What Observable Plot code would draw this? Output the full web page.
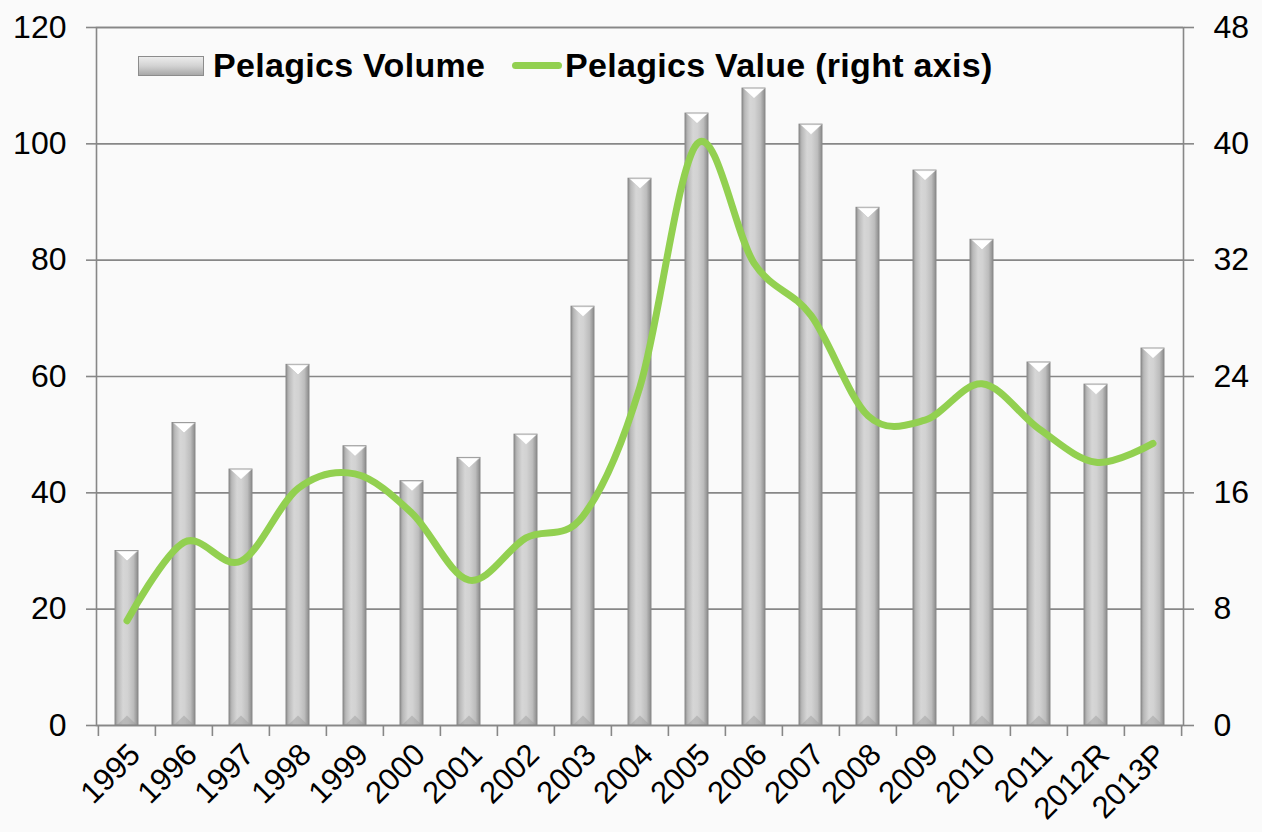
<!DOCTYPE html>
<html>
<head>
<meta charset="utf-8">
<script src="https://cdn.jsdelivr.net/npm/d3@7"></script>
<script src="https://cdn.jsdelivr.net/npm/@observablehq/plot@0.6"></script>
<style>
  html, body { margin: 0; padding: 0; background: #fafafa; }
  #wrap { position: relative; width: 1262px; height: 832px; font-family: "Liberation Sans", Arial, sans-serif; }
  .leg { position: absolute; top: 46px; display: flex; align-items: center; font-weight: bold; font-size: 34px; letter-spacing: 0.3px; color: #000; white-space: nowrap; }
  .sw-bar { width: 66px; height: 20px; margin-right: 9px; background: linear-gradient(to bottom, #ececec 0%, #d2d2d2 50%, #a8a8a8 100%); border: 1px solid #8c8c8c; box-sizing: border-box; }
  .sw-line { width: 50px; height: 7px; border-radius: 4px; background: #92d050; margin-right: 3px; }
</style>
</head>
<body>
<div id="wrap">
  <div id="chart"></div>
  <div class="leg" style="left:138px"><span class="sw-bar"></span><span>Pelagics Volume</span></div>
  <div class="leg" style="left:512px"><span class="sw-line"></span><span>Pelagics Value (right axis)</span></div>
</div>
<script>
const years = ["1995","1996","1997","1998","1999","2000","2001","2002","2003","2004","2005","2006","2007","2008","2009","2010","2011","2012R","2013P"];
const volume = [30, 52, 44, 62, 48, 42, 46, 50, 72, 94, 105.2, 109.5, 103.3, 89, 95.4, 83.5, 62.4, 58.6, 64.8];
const value = [7.2, 12.6, 11.3, 16.3, 17.3, 14.6, 10.0, 12.9, 14.4, 23.3, 40.0, 31.8, 28.2, 21.3, 21.0, 23.5, 20.4, 18.1, 19.4];
const leftTicks = [0, 20, 40, 60, 80, 100, 120];
const rightTicks = [0, 8, 16, 24, 32, 40, 48];
const rightMax = 48, leftMax = 120;
const k = leftMax / rightMax;

const data = years.map((y, i) => ({year: y, volume: volume[i], value: value[i]}));

const W = 1262, H = 832, mL = 96, mR = 79, mT = 27, mB = 107;
const step = (W - mL - mR) / years.length;

const topTri = {draw(ctx) { const w = 10.5, h = 10; ctx.moveTo(-w, 0); ctx.lineTo(w, 0); ctx.lineTo(0, h); ctx.closePath(); }};
const botTri = {draw(ctx) { const w = 10.5, h = 10; ctx.moveTo(-w, 0); ctx.lineTo(w, 0); ctx.lineTo(0, -h); ctx.closePath(); }};

const chart = Plot.plot({
  width: W, height: H,
  marginLeft: mL, marginRight: mR, marginTop: mT, marginBottom: mB,
  style: {background: "#fafafa", fontFamily: "'Liberation Sans', Arial, sans-serif", color: "#000"},
  x: {type: "band", domain: years, paddingInner: 0.6, paddingOuter: 0.3},
  y: {domain: [0, leftMax]},
  marks: [
    Plot.gridY(leftTicks, {stroke: "#878787", strokeOpacity: 1, strokeWidth: 1.6}),
    Plot.barY(data, {x: "year", y: "volume", fill: "url(#barGrad)", stroke: "#8a8a8a", strokeWidth: 1}),
    Plot.dot(data, {x: "year", y: 0, symbol: botTri, r: 5, fill: "#9a9a9a", fillOpacity: 0.45, stroke: "none"}),
    Plot.dot(data, {x: "year", y: "volume", symbol: topTri, r: 5, fill: "#ffffff", stroke: "#c8c8c8", strokeWidth: 0.6}),
    Plot.line(data, {x: "year", y: d => d.value * k, stroke: "#92d050", strokeWidth: 7, curve: "cardinal", strokeLinecap: "round", strokeLinejoin: "round"}),
    Plot.frame({stroke: "#878787", strokeWidth: 1.6}),
    Plot.axisY(leftTicks, {anchor: "left", tickSize: 10, tickPadding: 20, fontSize: 32, stroke: "#878787", strokeWidth: 1.6, label: null}),
    Plot.axisY(rightTicks.map(v => v * k), {anchor: "right", tickSize: 10, tickPadding: 20, fontSize: 32, stroke: "#878787", strokeWidth: 1.6, tickFormat: d => String(Math.round(d / k)), label: null}),
    Plot.axisX({tickSize: 11, dx: -step / 2, tickFormat: () => "", stroke: "#878787", strokeWidth: 1.6, label: null}),
    Plot.axisX([years[years.length - 1]], {tickSize: 11, dx: step / 2, tickFormat: () => "", stroke: "#878787", strokeWidth: 1.6, label: null}),
    Plot.axisX({tickSize: 0, tickRotate: -45, tickPadding: 24, dx: 8, fontSize: 31, label: null})
  ]
});

const svg = d3.select(chart);
const defs = svg.insert("defs", ":first-child");
const g = defs.append("linearGradient").attr("id", "barGrad").attr("x1", "0").attr("x2", "1").attr("y1", "0").attr("y2", "0");
[["0%", "#8e8e8e"], ["12%", "#b8b8b8"], ["35%", "#d6d6d6"], ["55%", "#d2d2d2"], ["80%", "#bdbdbd"], ["100%", "#8a8a8a"]]
  .forEach(([o, c]) => g.append("stop").attr("offset", o).attr("stop-color", c));

document.getElementById("chart").appendChild(chart);
</script>
</body>
</html>
